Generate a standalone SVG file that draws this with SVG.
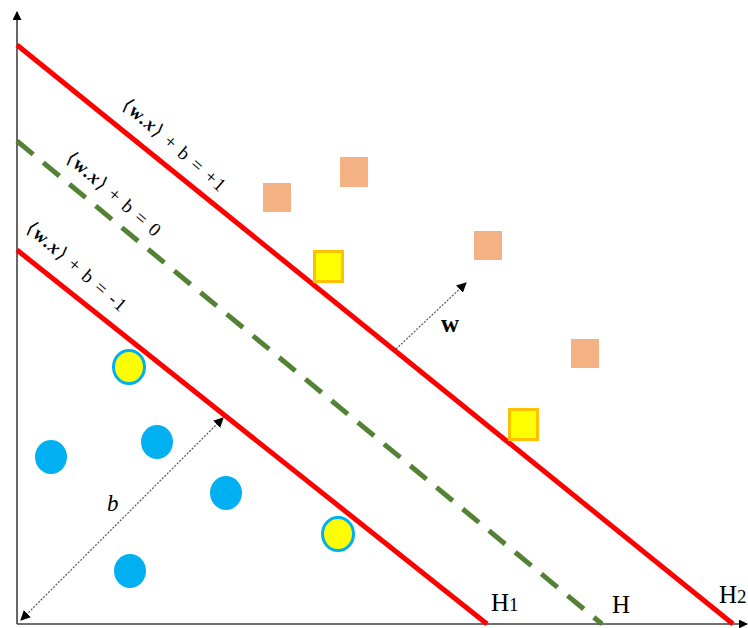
<svg xmlns="http://www.w3.org/2000/svg" width="748" height="628" viewBox="0 0 748 628">
<style>
.red{stroke:#FF0000;stroke-width:5;fill:none}
.dash{stroke:#548235;stroke-width:5;fill:none;stroke-dasharray:21 13}
.axis{stroke:#404040;stroke-width:1.6;fill:none}
.vec{stroke:#555;stroke-width:1.2;fill:none;stroke-dasharray:2 1.5}
.peach{fill:#F4B183}
.ysq{fill:#FFFF00;stroke:#FFC000;stroke-width:3}
.blue{fill:#00B0F0}
.ycirc{fill:#FFFF00;stroke:#00B0F0;stroke-width:3}
.lbl{font-family:"Liberation Serif","DejaVu Serif",serif;font-size:19px;letter-spacing:1.4px;fill:#000}
.h{font-family:"Liberation Serif","DejaVu Serif",serif;font-size:25px;fill:#000}
</style>
<defs>
<marker id="ah" viewBox="0 0 10 10" refX="9" refY="5" markerWidth="10" markerHeight="10" markerUnits="userSpaceOnUse" orient="auto-start-reverse"><path d="M0,0 L10,5 L0,10 z" fill="#000"/></marker>
<marker id="ax" viewBox="0 0 10 10" refX="9" refY="5" markerWidth="9" markerHeight="9" markerUnits="userSpaceOnUse" orient="auto"><path d="M0,0 L10,5 L0,10 z" fill="#000"/></marker>
</defs>
<rect width="748" height="628" fill="#fff"/>
<g id="connectors">
<line class="axis" x1="17" y1="624" x2="17" y2="12" marker-end="url(#ax)"/>
<line class="axis" x1="17" y1="624" x2="747" y2="624" marker-end="url(#ax)"/>
<line id="H2" class="red" x1="17" y1="45" x2="733" y2="624"/>
<line id="H" class="dash" x1="17" y1="141" x2="602" y2="624"/>
<line id="H1" class="red" x1="17" y1="250" x2="487" y2="624"/>
<line class="vec" x1="21" y1="620" x2="223" y2="418" marker-start="url(#ah)" marker-end="url(#ah)"/>
<line class="vec" x1="396" y1="349" x2="466" y2="283" marker-end="url(#ah)"/>
</g>
<g id="labels">
<text class="lbl" transform="translate(121,107) rotate(41)">⟨<tspan font-weight="bold">w.</tspan><tspan font-weight="bold" font-style="italic">x</tspan>⟩ + b = +1</text>
<text class="lbl" transform="translate(65,160) rotate(41)">⟨<tspan font-weight="bold">w.</tspan><tspan font-weight="bold" font-style="italic">x</tspan>⟩ + b = 0</text>
<text class="lbl" transform="translate(25,230) rotate(41)">⟨<tspan font-weight="bold">w.</tspan><tspan font-weight="bold" font-style="italic">x</tspan>⟩ + b = -1</text>
<text class="lbl" x="441" y="332" style="font-weight:bold;font-size:25px;letter-spacing:0">w</text>
<text class="lbl" x="107" y="511" style="font-style:italic;font-size:23px;letter-spacing:0">b</text>
<text class="h" x="491" y="611">H<tspan style="font-size:19px">1</tspan></text>
<text class="h" x="612" y="613">H</text>
<text class="h" x="719" y="603">H<tspan style="font-size:19px">2</tspan></text>
</g>
<g id="pos1"><rect class="peach" x="263" y="183" width="28" height="29"/></g>
<g id="pos2"><rect class="peach" x="340" y="157" width="28" height="30"/></g>
<g id="pos3"><rect class="peach" x="474" y="231" width="28" height="29"/></g>
<g id="pos4"><rect class="peach" x="571" y="339" width="28" height="29"/></g>
<g id="sv1"><rect class="ysq" x="314.5" y="251.5" width="28" height="30"/></g>
<g id="sv2"><rect class="ysq" x="509.5" y="409.5" width="28" height="30"/></g>
<g id="neg1"><ellipse class="blue" cx="51" cy="457" rx="16" ry="17"/></g>
<g id="neg2"><ellipse class="blue" cx="157" cy="442" rx="16" ry="17"/></g>
<g id="neg3"><ellipse class="blue" cx="226" cy="493" rx="16" ry="17"/></g>
<g id="neg4"><ellipse class="blue" cx="130" cy="571" rx="16" ry="17"/></g>
<g id="sv3"><ellipse class="ycirc" cx="129" cy="367" rx="15.5" ry="16.5"/></g>
<g id="sv4"><ellipse class="ycirc" cx="338" cy="534" rx="15.5" ry="16.5"/></g>
</svg>
